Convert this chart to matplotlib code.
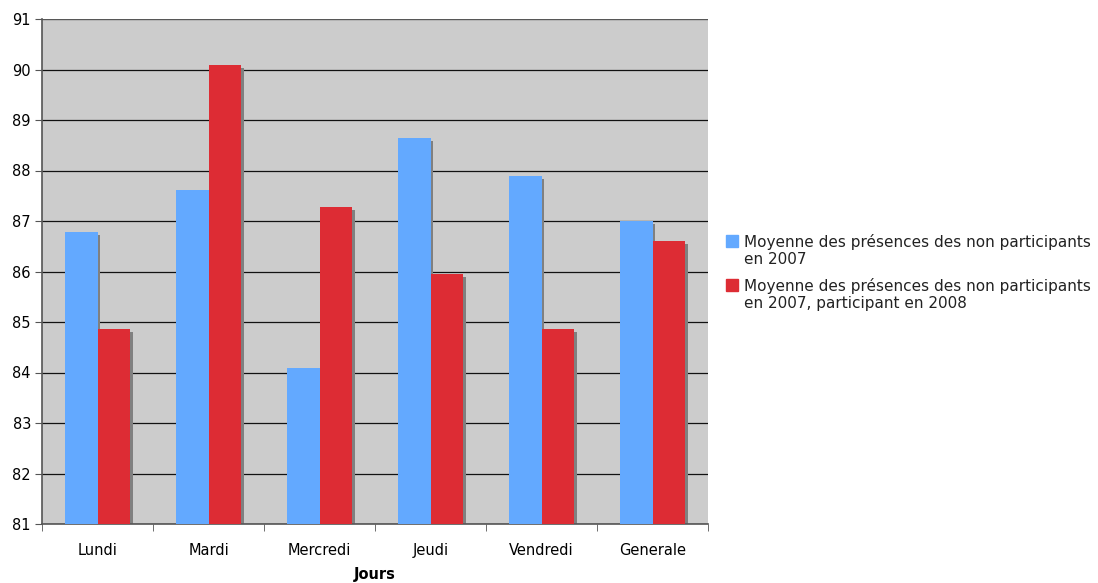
import numpy as np
import matplotlib
matplotlib.use("Agg")
import matplotlib.pyplot as plt
from matplotlib.patches import Rectangle

# values
jours = ["Lundi", "Mardi", "Mercredi", "Jeudi", "Vendredi", "Generale"]
non_part_2007 = [86.79, 87.62, 84.09, 88.65, 87.89, 87.00]
part_2008 = [84.86, 90.09, 87.28, 85.95, 84.86, 86.61]
labels = ["Moyenne des présences des non participants\nen 2007",
          "Moyenne des présences des non participants\nen 2007, participant en 2008"]

blue = "#63A9FF"
red = "#DD2C34"
shadow = "#808080"

W, H = 1098, 583
plt.rcParams['font.family'] = ['DejaVu Sans']
fig = plt.figure(figsize=(W/100, H/100), dpi=100)
ax = fig.add_axes([42/W, 59/H, 666/W, 505/H])
ax.set_facecolor("#CCCCCC")

x = np.arange(len(jours))
w = 0.29
ybase = 81
sx, sy = 0.027, 0.06

# shadows first, then bars
for off, vals in [(-w/2, non_part_2007), (w/2, part_2008)]:
    vals = np.array(vals)
    ax.bar(x + off + sx, vals - ybase - sy, w, bottom=ybase, color=shadow, zorder=2)
for off, vals, col in [(-w/2, non_part_2007, blue), (w/2, part_2008, red)]:
    vals = np.array(vals)
    ax.bar(x + off, vals - ybase, w, bottom=ybase, color=col, zorder=3)

ax.set_ylim(81, 91)
ax.set_xlim(-0.5, len(jours) - 0.5)
ax.set_yticks(range(81, 92))
ax.yaxis.grid(True, color="#111111", lw=0.9, zorder=1)
ax.set_axisbelow(True)
ax.axhline(91, color="#666666", lw=1.2, zorder=1.5)

ax.set_xticks(x)
ax.set_xticklabels(jours, fontsize=10.5)
ax.set_xticks(np.arange(-0.5, len(jours)), minor=True)
ax.tick_params(axis="x", which="major", length=0, pad=14)
ax.tick_params(axis="x", which="minor", length=5, color="#555555", direction="out")
ax.tick_params(axis="y", length=5, color="#555555", labelsize=10.5, pad=3)

for s in ["top", "right"]:
    ax.spines[s].set_visible(False)
for s in ["left", "bottom"]:
    ax.spines[s].set_color("#555555")
    ax.spines[s].set_linewidth(1.2)

ax.set_xlabel("Jours", fontsize=10.5, fontweight="bold", labelpad=6)

# legend drawn by hand so the square lines up with the first text line
for i, (lab, col) in enumerate(zip(labels, [blue, red])):
    top = 235 + i * 44
    fig.patches.append(Rectangle((726/W, 1 - (top + 12)/H), 12/W, 12/H,
                                 transform=fig.transFigure, color=col))
    fig.text(744/W, 1 - (top - 1)/H, lab, fontsize=11, color="#222222",
             va="top", ha="left", linespacing=1.2)

fig.savefig("out.png", dpi=100)
